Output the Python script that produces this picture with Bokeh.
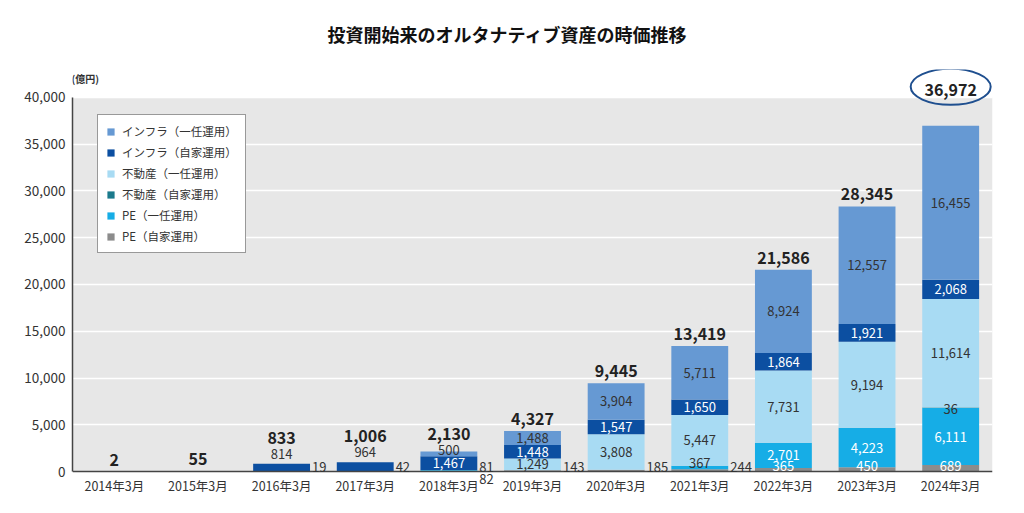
from bokeh.plotting import figure
from bokeh.models import (ColumnDataSource, FactorRange, Range1d, FixedTicker,
                          NumeralTickFormatter, BoxAnnotation, Legend, LegendItem,
                          LabelSet, Span)
from bokeh.core.properties import value
from bokeh.embed import file_html
from bokeh.resources import INLINE

FONT = "Noto Sans CJK JP"

years = ["2014年3月", "2015年3月", "2016年3月", "2017年3月", "2018年3月", "2019年3月",
         "2020年3月", "2021年3月", "2022年3月", "2023年3月", "2024年3月"]
infra_ichinin = [0, 0, 0, 0, 500, 1488, 3904, 5711, 8924, 12557, 16455]
infra_jika = [2, 55, 814, 964, 1467, 1448, 1547, 1650, 1864, 1921, 2068]
fudosan_ichinin = [0, 0, 0, 0, 0, 1249, 3808, 5447, 7731, 9194, 11614]
fudosan_jika = [0, 0, 0, 0, 0, 0, 0, 0, 0, 0, 36]
pe_ichinin = [0, 0, 0, 0, 81, 0, 0, 367, 2701, 4223, 6111]
pe_jika = [0, 0, 19, 42, 82, 143, 185, 244, 365, 450, 689]
totals = [2, 55, 833, 1006, 2130, 4327, 9445, 13419, 21586, 28345, 36972]

series_labels = ["PE（自家運用）", "PE（一任運用）", "不動産（自家運用）",
                 "不動産（一任運用）", "インフラ（自家運用）", "インフラ（一任運用）"]
series_keys = ["pe_jika", "pe_ichinin", "fudosan_jika", "fudosan_ichinin",
               "infra_jika", "infra_ichinin"]
series_vals = [pe_jika, pe_ichinin, fudosan_jika, fudosan_ichinin, infra_jika, infra_ichinin]
colors = ["#8c8c8c", "#16ade6", "#1b7a8c", "#a8dbf3", "#0c4fa1", "#6699d3"]
text_on = ["white", "white", "white", "#333333", "white", "#333333"]

TITLE = "投資開始来のオルタナティブ資産の時価推移"
UNIT = "(億円)"
Y_MAX = 40000
PLOT_PX = 375                 # pixel height of 0..Y_MAX
PX = PLOT_PX / Y_MAX          # pixels per data unit
Y_END = Y_MAX + 28 / PX
Y_START = -16 / PX
FRAME_W = 920
CAT_PX = FRAME_W / len(years)  # pixels per category
BAR_W = 0.68
DARK = "#333333"

data = dict(year=years)
for k, v in zip(series_keys, series_vals):
    data[k] = v
source = ColumnDataSource(data)

p = figure(x_range=FactorRange(factors=years, range_padding=0),
           y_range=Range1d(Y_START, Y_END),
           width=1016, height=507, output_backend="svg", toolbar_location=None,
           min_border_left=72, min_border_right=24, min_border_top=68, min_border_bottom=20,
           background_fill_color="white", border_fill_color="white", outline_line_color=None)

p.title.text = TITLE
p.title.align = "left"
p.title.offset = 255
p.title.text_font = FONT
p.title.text_font_size = "18px"
p.title.text_font_style = "bold"
p.title.text_color = "#111111"
p.title.standoff = 41
p.title.vertical_align = "top"

bg = BoxAnnotation(bottom=0, top=Y_MAX, fill_color="#e7e7e7", fill_alpha=1,
                   line_color=None, level="image")
p.add_layout(bg)

renderers = p.vbar_stack(series_keys, x="year", width=BAR_W, color=colors,
                         source=source, line_color=None)

# axes
p.yaxis.ticker = FixedTicker(ticks=list(range(0, Y_MAX + 1, 5000)))
p.yaxis.formatter = NumeralTickFormatter(format="0,0")
p.yaxis.bounds = (0, Y_MAX)
p.yaxis.axis_line_color = "#444444"
p.yaxis.axis_line_width = 1.5
p.yaxis.major_tick_line_color = None
p.yaxis.major_tick_out = 0
p.yaxis.major_tick_in = 0
p.yaxis.minor_tick_line_color = None
p.yaxis.major_label_text_font = FONT
p.yaxis.major_label_text_font_size = "13.5px"
p.yaxis.major_label_text_color = DARK
p.yaxis.major_label_standoff = 7

p.xaxis.axis_line_color = None
p.xaxis.major_tick_line_color = None
p.xaxis.major_tick_out = 0
p.xaxis.major_tick_in = 0
p.xaxis.major_label_text_font = FONT
p.xaxis.major_label_text_font_size = "12.5px"
p.xaxis.major_label_text_color = DARK
p.xaxis.major_label_standoff = -12

baseline = Span(location=0, dimension="width", line_color="#444444", line_width=1.5)
p.add_layout(baseline)

p.xgrid.grid_line_color = None
p.ygrid.grid_line_color = "white"
p.ygrid.grid_line_width = 1.5
p.ygrid.ticker = FixedTicker(ticks=list(range(5000, Y_MAX + 1, 5000)))

# segment labels derived from the data
lx, ly, lt, lc, lb, lxo, lyo, la = [], [], [], [], [], [], [], []
tot_offset = []
for i, yr in enumerate(years):
    segs = []
    cum = 0
    for j, vals in enumerate(series_vals):
        v = vals[i]
        if v > 0:
            segs.append((j, v, cum, cum + v))
        cum += v
    toff = 6
    if len(segs) > 1:
        row = 0
        for n in range(len(segs) - 1, -1, -1):
            j, v, b, t = segs[n]
            is_top = n == len(segs) - 1
            above = segs[n + 1][0] if not is_top else None
            h_px = v * PX
            col = text_on[j] if h_px >= 10 else (text_on[above] if above is not None else DARK)
            if v >= 1000:
                lx.append(yr); ly.append((b + t) / 2); lb.append("middle")
                lxo.append(0); lyo.append(0); la.append("center"); lc.append(col)
            elif b < 300 and v < 300:
                lx.append(yr); ly.append(0); lb.append("bottom")
                lxo.append(BAR_W * CAT_PX / 2 + 2); lyo.append(-row * 12); la.append("left")
                lc.append(DARK)
                row += 1
            elif is_top:
                lx.append(yr); ly.append(t); la.append("center"); lxo.append(0); lc.append(DARK)
                if totals[i] < 1500:
                    lb.append("bottom"); lyo.append(5); toff = 20
                else:
                    lb.append("middle"); lyo.append(2); toff = 12
            elif b < 300:
                lx.append(yr); ly.append(b); lb.append("bottom")
                lxo.append(0); lyo.append(1); la.append("center"); lc.append(col)
            else:
                lx.append(yr); ly.append((b + t) / 2); lb.append("middle")
                lxo.append(0); lyo.append(-1); la.append("center"); lc.append(col)
            lt.append(f"{v:,}")
    tot_offset.append(toff)

max_i = totals.index(max(totals))
tot_offset[max_i] = 30

seg_src = ColumnDataSource(dict(x=lx, y=ly, text=lt, color=lc, baseline=lb,
                                xo=lxo, yo=lyo, align=la))
seg_labels = LabelSet(x="x", y="y", text="text", source=seg_src, text_color="color",
                      text_baseline="baseline", text_align="align", x_offset="xo",
                      y_offset="yo", text_font=value(FONT), text_font_size="13px")
p.add_layout(seg_labels)

tot_src = ColumnDataSource(dict(x=years, y=totals, text=[f"{t:,}" for t in totals],
                                yo=tot_offset))
tot_labels = LabelSet(x="x", y="y", text="text", source=tot_src, y_offset="yo",
                      text_align="center", text_baseline="bottom",
                      text_font=value(FONT), text_font_size="16px",
                      text_font_style="bold", text_color="#222222")
p.add_layout(tot_labels)

# highlight ellipse around the largest total
ell_y = totals[max_i] + (tot_offset[max_i] + 9) / PX
p.ellipse(x=[years[max_i]], y=[ell_y], width=80, height=36, width_units="screen",
          height_units="screen", fill_color=None, line_color="#1f4f8f", line_width=2)

unit_src = ColumnDataSource(dict(x=[years[0]], y=[Y_MAX + 19 / PX], text=[UNIT]))
unit = LabelSet(x="x", y="y", text="text", source=unit_src, x_offset=-29,
                text_align="center", text_baseline="middle", text_font=value(FONT),
                text_font_size="10px", text_font_style="bold", text_color=DARK)
p.add_layout(unit)

order = [5, 4, 3, 2, 1, 0]
legend = Legend(items=[LegendItem(label=series_labels[k], renderers=[renderers[k]]) for k in order],
                location=(25, 234), border_line_color="#333333", border_line_width=1.5,
                background_fill_color="white", background_fill_alpha=1,
                label_text_font=FONT, label_text_font_size="11.5px", label_text_color=DARK,
                glyph_width=9, glyph_height=9, label_height=14, spacing=5,
                padding=8, margin=0, label_standoff=7)
p.add_layout(legend)

open("out.html", "w").write(file_html(p, INLINE))
